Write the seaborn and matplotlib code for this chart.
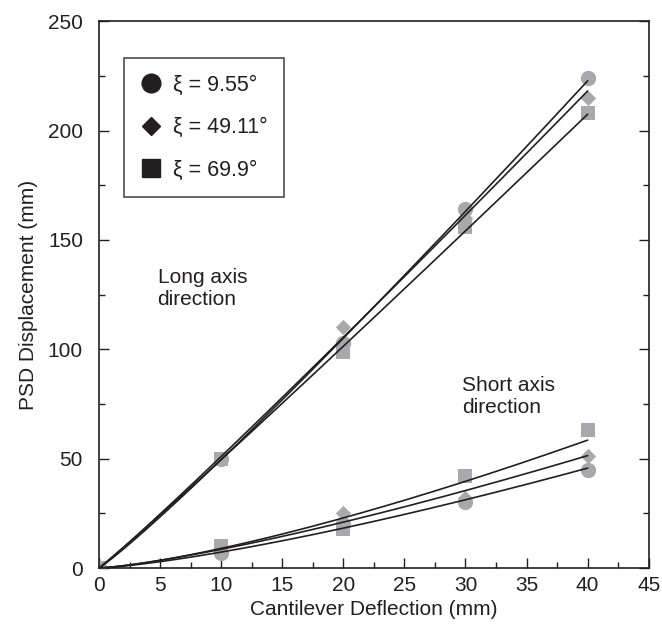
import matplotlib
matplotlib.use("Agg")
import matplotlib.pyplot as plt
import seaborn as sns
import numpy as np
import pandas as pd
from matplotlib.lines import Line2D
from matplotlib.ticker import MultipleLocator

deflection = [0, 10, 20, 30, 40]
series_labels = ["ξ = 9.55°", "ξ = 49.11°", "ξ = 69.9°"]
markers = ["o", "D", "s"]

long_circle = [0, 50, 103, 164, 224]
long_diamond = [0, 50, 110, 160, 215]
long_square = [0, 50, 99, 156, 208]

short_circle = [0, 7, 20, 30, 45]
short_diamond = [0, 8, 25, 32, 51]
short_square = [0, 10, 18, 42, 63]

rows = []
for lab, lv, sv in zip(series_labels, [long_circle, long_diamond, long_square],
                       [short_circle, short_diamond, short_square]):
    for x, y in zip(deflection, lv):
        rows.append(dict(x=x, y=y, series=lab, axis="long"))
    for x, y in zip(deflection, sv):
        rows.append(dict(x=x, y=y, series=lab, axis="short"))
df = pd.DataFrame(rows)

sns.set_style("ticks")
plt.rcParams["font.family"] = ["Liberation Sans", "DejaVu Sans"]

fig = plt.figure(figsize=(6.62, 6.35), dpi=100)
ax = fig.add_axes([0.1495, 0.1055, 0.8305, 0.861])

ink = "#231f20"
gray = "#a7a9ac"
data_ms = {"o": 11, "D": 7.8, "s": 10}
leg_ms = {"o": 13.5, "D": 9.5, "s": 13.5}
xfit = np.linspace(0, 40, 200)
for lab, mk in zip(series_labels, markers):
    for axis_name in ["long", "short"]:
        sub = df[(df.series == lab) & (df.axis == axis_name)]
        pos = sub[sub.x > 0]
        b, lna = np.polyfit(np.log(pos.x), np.log(pos.y), 1)
        fit = pd.DataFrame(dict(x=xfit, y=np.exp(lna) * xfit ** b))
        sns.scatterplot(data=sub, x="x", y="y", marker=mk, s=data_ms[mk] ** 2, color=gray,
                        edgecolor=gray, linewidth=0, ax=ax, zorder=2, legend=False)
        sns.lineplot(data=fit, x="x", y="y", color=ink, lw=1.2, ax=ax, zorder=3)

ax.set_xlim(0, 45)
ax.set_ylim(0, 250)
ax.xaxis.set_major_locator(MultipleLocator(5))
ax.xaxis.set_minor_locator(MultipleLocator(2.5))
ax.yaxis.set_major_locator(MultipleLocator(50))
ax.yaxis.set_minor_locator(MultipleLocator(25))
ax.tick_params(which="both", direction="in", labelsize=15, right=True, colors=ink)
ax.tick_params(which="major", length=7, width=1)
ax.tick_params(which="minor", length=4, width=1)
ax.tick_params(axis="y", pad=11.5)
ax.tick_params(axis="x", pad=6)
for sp in ax.spines.values():
    sp.set_color(ink)
    sp.set_linewidth(1.2)
ax.set_xlabel("Cantilever Deflection (mm)", fontsize=15, color=ink, labelpad=3)
ax.set_ylabel("PSD Displacement (mm)", fontsize=15, color=ink, labelpad=7)

ax.text(4.8, 137, "Long axis\ndirection", fontsize=15, color=ink, va="top",
        linespacing=1.2)
ax.text(29.7, 88, "Short axis\ndirection", fontsize=15, color=ink, va="top",
        linespacing=1.2)

handles = [Line2D([], [], linestyle="none", marker=m, ms=leg_ms[m], color=ink)
           for m in markers]
leg = ax.legend(handles, series_labels, loc="upper left", bbox_to_anchor=(0.045, 0.932),
                fontsize=15.5, frameon=True, fancybox=False, edgecolor=ink,
                borderpad=0.75, labelspacing=1.0, handleheight=0.7, handletextpad=0.55,
                handlelength=1.0, borderaxespad=0)
leg.get_frame().set_linewidth(1.2)
for t in leg.get_texts():
    t.set_color(ink)

fig.savefig("out.png", dpi=100)
